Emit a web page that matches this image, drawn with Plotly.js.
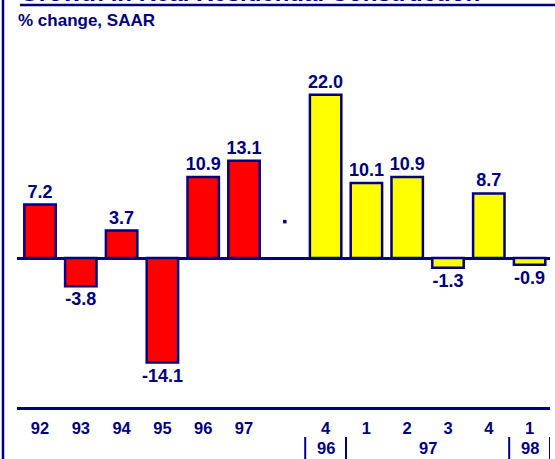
<!DOCTYPE html>
<html><head><meta charset="utf-8">
<script src="https://cdn.plot.ly/plotly-3.0.1.min.js"></script>
<style>html,body{margin:0;padding:0;background:#fff;} #chart{width:555px;height:459px;}</style>
</head><body><div id="chart"></div>
<script>
// ---- data ----
const titleText = 'Growth in Real Residential Construction';
const subtitleText = '% change, SAAR';
const annualLabels = ['92', '93', '94', '95', '96', '97'];
const annualValues = [7.2, -3.8, 3.7, -14.1, 10.9, 13.1];
const quarterLabels = ['4', '1', '2', '3', '4', '1'];
const quarterValues = [22.0, 10.1, 10.9, -1.3, 8.7, -0.9];
const yearGroupLabels = ['96', '97', '98'];
const yearGroupSizes = [1, 4, 1];
const dotValue = 4.9;

// ---- layout helpers ----
const NAVY = '#000080';
const FONT = 'Arial, "Liberation Sans", sans-serif';
const W = 555, H = 459;
const M = {l: 17, r: 5, t: 30, b: 52};
const PW = W - M.l - M.r, PH = H - M.t - M.b;
const px2x = p => (p - M.l) / PW;         // pixel -> paper x
const py2y = p => 1 - (p - M.t) / PH;     // pixel -> paper y

const annualX = annualLabels.map((_, i) => i);
const gapIndex = annualLabels.length;
const quarterX = quarterLabels.map((_, i) => gapIndex + 1 + i);

const fmt = v => v.toFixed(1);

const barCommon = {
  type: 'bar', width: 0.77,
  textposition: 'outside', constraintext: 'none', cliponaxis: false,
  textfont: {family: FONT, size: 18, color: NAVY, weight: 'bold'},
  hoverinfo: 'skip', showlegend: false
};

const traces = [
  Object.assign({}, barCommon, {
    x: annualX, y: annualValues, text: annualValues.map(fmt),
    marker: {color: '#FF0000', line: {color: NAVY, width: 2.5}}
  }),
  Object.assign({}, barCommon, {
    x: quarterX, y: quarterValues, text: quarterValues.map(fmt),
    marker: {color: '#FFFF00', line: {color: NAVY, width: 2.5}}
  }),
  {
    type: 'scatter', mode: 'markers', x: [gapIndex], y: [dotValue],
    marker: {symbol: 'square', size: 3.5, color: NAVY}, hoverinfo: 'skip', showlegend: false
  }
];

// separators and group labels under quarterly ticks
const shapes = [];
const annotations = [];
let start = quarterX[0] - 0.5;
shapes.push({type: 'line', xref: 'x', yref: 'paper', x0: start, x1: start,
  y0: py2y(437), y1: py2y(H), line: {color: NAVY, width: 2}});
yearGroupLabels.forEach((lab, k) => {
  const end = start + yearGroupSizes[k];
  annotations.push({text: lab, xref: 'x', yref: 'paper', x: (start + end) / 2, y: py2y(448),
    xanchor: 'center', yanchor: 'middle', showarrow: false,
    font: {family: FONT, size: 16.5, color: NAVY, weight: 'bold'}});
  shapes.push({type: 'line', xref: 'x', yref: 'paper', x0: end, x1: end,
    y0: py2y(437), y1: py2y(H), line: {color: NAVY, width: 2}});
  start = end;
});

// frame: left border and title underline
shapes.push({type: 'line', xref: 'paper', yref: 'paper', x0: px2x(3), x1: px2x(3),
  y0: py2y(H), y1: py2y(0), line: {color: NAVY, width: 2.5}});
shapes.push({type: 'line', xref: 'paper', yref: 'paper', x0: px2x(20), x1: px2x(W),
  y0: py2y(5), y1: py2y(5), line: {color: NAVY, width: 2.5}});

annotations.push({text: titleText, xref: 'paper', yref: 'paper', x: px2x(18), y: py2y(8.5),
  xanchor: 'left', yanchor: 'bottom', showarrow: false,
  font: {family: FONT, size: 24, color: NAVY, weight: 'bold'}});
annotations.push({text: subtitleText, xref: 'paper', yref: 'paper', x: px2x(16), y: py2y(21),
  xanchor: 'left', yanchor: 'middle', showarrow: false,
  font: {family: FONT, size: 17, color: NAVY, weight: 'bold'}});

const tickvals = annualX.concat(quarterX);
const ticktext = annualLabels.concat(quarterLabels);

const zeroPx = 258, pxPerUnit = 7.42;
const yMin = -(M.t + PH - zeroPx) / pxPerUnit;
const yMax = (zeroPx - M.t) / pxPerUnit;

const layout = {
  width: W, height: H, margin: M,
  paper_bgcolor: '#fff', plot_bgcolor: '#fff',
  bargap: 0.2,
  xaxis: {range: [-0.564, quarterX[quarterX.length - 1] + 0.5], tickvals, ticktext,
    showline: true, linecolor: NAVY, linewidth: 2.5, ticks: '', showgrid: false, zeroline: false,
    ticklabelstandoff: 5,
    tickfont: {family: FONT, size: 16.5, color: NAVY, weight: 'bold'}, fixedrange: true},
  yaxis: {range: [yMin, yMax], showticklabels: false, showgrid: false, ticks: '',
    showline: false, zeroline: true, zerolinecolor: NAVY, zerolinewidth: 3, fixedrange: true},
  shapes, annotations
};

Plotly.newPlot('chart', traces, layout, {staticPlot: true, displayModeBar: false});
</script>
</body></html>
